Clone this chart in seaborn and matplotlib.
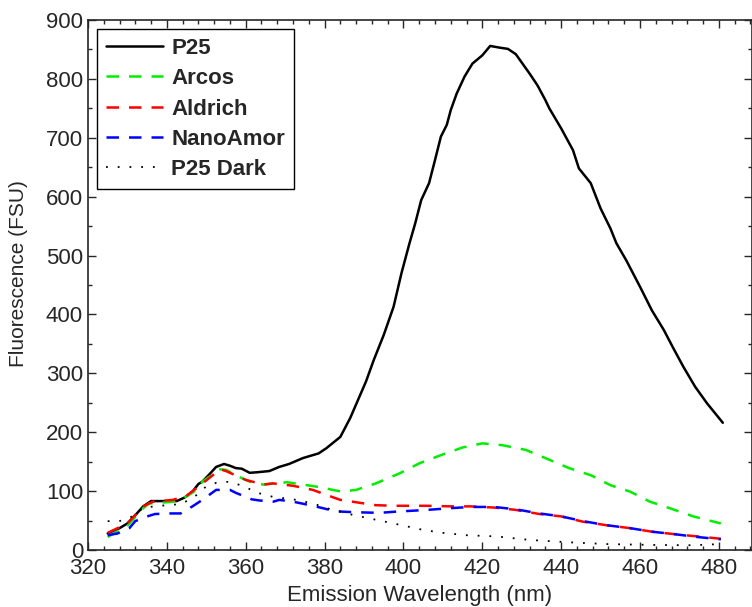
import matplotlib
matplotlib.use('Agg')
import matplotlib.pyplot as plt
from matplotlib.ticker import MultipleLocator
import seaborn as sns

# leituras do gráfico
p25_x = [325, 328, 330, 332, 334, 336, 340, 342.5, 344.5, 346.5, 348, 349, 351, 352.5, 354.5, 356,
         357.5, 359, 361, 363, 366, 368.5, 371, 374.5, 378.5, 380.5, 384, 386.5, 388.5, 390.5, 392.5,
         395, 397.5, 399.5, 401.5, 403, 404.5, 406.5, 408, 409.5, 411, 412, 413.5, 415.5, 417.5, 420,
         422, 424.5, 426.5, 428.5, 432, 434, 436, 437, 440, 443, 444.5, 447.5, 450, 452.5, 454, 456.5,
         460, 463, 466, 468.5, 471, 474, 477, 481]
p25_y = [28, 37, 45, 59, 74, 83, 83, 83, 89, 99, 112, 116, 130, 141, 146, 143,
         139, 138, 131, 132, 134, 141, 146, 156, 164, 173, 192, 224, 255, 286, 323,
         365, 413, 470, 520, 555, 594, 623, 662, 702, 722, 747, 775, 804, 826, 840,
         856, 853, 851, 842, 809, 789, 764, 750, 716, 679, 648, 623, 580, 546, 521, 492,
         447, 407, 374, 342, 311, 277, 249, 216]

arcos_x = [325, 330, 334, 335.5, 340, 341.5, 345, 347.5, 349, 353.5, 355, 359, 361, 364.5, 367, 370.5,
           375.5, 379.5, 382, 384.5, 388, 393, 399, 404, 409.5, 415, 420, 425, 431, 436, 442, 447.5,
           452.5, 457.5, 462.5, 467.5, 473.5, 480.5]
arcos_y = [22, 41, 71, 79, 81, 82, 91, 102, 116, 137, 136, 122, 116, 111, 113, 115,
           110, 106, 102, 99, 102, 113, 130, 147, 161, 174, 181, 178, 170, 156, 139, 127,
           110, 99, 82, 71, 57, 45]

aldrich_x = [325, 330, 334, 336.5, 341.5, 345, 348.5, 353.5, 355, 360, 364.5, 367, 372, 377, 381.5,
             384, 389, 393, 398, 406, 412, 417, 423, 428.5, 434.5, 440, 445.5, 451.5, 457.5, 463,
             468.5, 474.5, 480.5]
aldrich_y = [29, 45, 74, 82, 85, 92, 110, 137, 134, 119, 111, 113, 109, 102, 91,
             85, 80, 76, 75, 75, 74, 74, 72, 68, 61, 57, 48, 42, 37, 31,
             27, 23, 19]

nano_x = [325, 327.5, 330.5, 332, 335.5, 337, 341, 343.5, 346.5, 349, 352.5, 356, 357.5, 361.5, 363.5,
          367, 368.5, 372, 377, 382, 384.5, 388, 394, 398, 406, 412, 417, 423, 428.5, 434.5, 440,
          445.5, 451.5, 457.5, 463, 468.5, 474.5, 480.5]
nano_y = [25, 28, 37, 49, 58, 61, 62, 62, 74, 85, 102, 102, 97, 86, 84,
          82, 85, 82, 75, 67, 65, 64, 63, 65, 68, 71, 73, 73, 69, 62, 57,
          49, 42, 37, 31, 27, 22, 18]

dark_x = [325, 327.5, 330.5, 334, 337.5, 341, 344, 347.5, 350, 352.5, 356, 359.5, 363, 367, 372, 377,
          382, 387.5, 392.5, 397.5, 405, 410, 416, 423.5, 432, 442, 451.5, 463, 473.5, 480.5]
dark_y = [49, 48, 54, 71, 75, 76, 79, 93, 108, 114, 116, 108, 97, 90, 86, 79,
          68, 59, 52, 45, 34, 29, 25, 23, 17, 13, 10, 8.5, 8, 10]

sns.set_style('ticks')
plt.rcParams['font.family'] = ['Liberation Sans', 'DejaVu Sans']

fig = plt.figure(figsize=(7.52, 6.07), dpi=100)
ax = fig.add_axes([0.117, 0.094, 0.883, 0.873])

tracejado = (0, (5, 4))
sns.lineplot(x=p25_x, y=p25_y, ax=ax, color='black', lw=1.8, label='P25', sort=False, estimator=None)
sns.lineplot(x=arcos_x, y=arcos_y, ax=ax, color='#00ee00', lw=1.8, linestyle=tracejado,
             label='Arcos', sort=False, estimator=None)
sns.lineplot(x=aldrich_x, y=aldrich_y, ax=ax, color='#ff0000', lw=1.8, linestyle=tracejado,
             label='Aldrich', sort=False, estimator=None)
sns.lineplot(x=nano_x, y=nano_y, ax=ax, color='#0000ff', lw=1.8, linestyle=tracejado,
             label='NanoAmor', sort=False, estimator=None)
sns.lineplot(x=dark_x, y=dark_y, ax=ax, color='black', lw=1.3, linestyle=(0, (1, 5.5)),
             label='P25 Dark', sort=False, estimator=None)

ax.set_xlim(320, 488.4)
ax.set_ylim(0, 900)
ax.xaxis.set_major_locator(MultipleLocator(20))
ax.xaxis.set_minor_locator(MultipleLocator(4))
ax.yaxis.set_major_locator(MultipleLocator(100))
ax.yaxis.set_minor_locator(MultipleLocator(50))
ax.tick_params(which='both', direction='in', top=True, right=True, labelsize=16, width=1)
ax.tick_params(axis='x', pad=6)
ax.tick_params(which='major', length=6)
ax.tick_params(which='minor', length=3)
for s in ax.spines.values():
    s.set_linewidth(1.2)

ax.set_xlabel('Emission Wavelength (nm)', fontsize=16, labelpad=4)
ax.set_ylabel('Fluorescence (FSU)', fontsize=15)
ax.yaxis.set_label_coords(-0.09, 0.521)

leg = ax.legend(loc='upper left', bbox_to_anchor=(0.013, 0.983), fancybox=False, framealpha=1,
                edgecolor='black', prop={'weight': 'bold', 'size': 16}, handlelength=2.6,
                labelspacing=0.42, borderpad=0.4, handletextpad=0.35, borderaxespad=0)
leg.get_frame().set_linewidth(1.0)

plt.savefig('out.png', dpi=100)
